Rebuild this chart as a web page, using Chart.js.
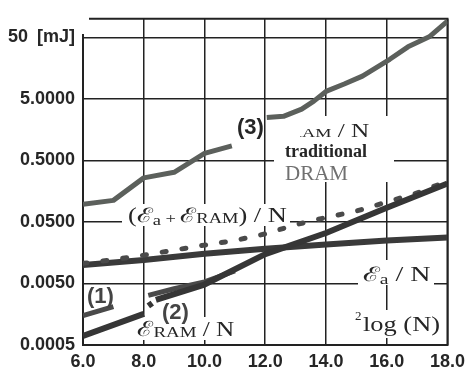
<!DOCTYPE html>
<html>
<head>
<meta charset="utf-8">
<script src="https://cdn.jsdelivr.net/npm/chart.js@4.4.1/dist/chart.umd.min.js"></script>
<style>
  html, body { margin: 0; padding: 0; background: #fff; }
  #wrap { width: 471px; height: 374px; }
</style>
</head>
<body>
<div id="wrap"><canvas id="chart" width="471" height="374"></canvas></div>
<script>
// x axis = 2log(N), y axis = energy in mJ (log)
const xTicks = [6, 8, 10, 12, 14, 16, 18];
const yTicks = [0.0005, 0.005, 0.05, 0.5, 5, 50];
const yTickLabels = ['0.0005', '0.0050', '0.0500', '0.5000', '5.0000', '50\u2002[mJ]'];

// (3) traditional DRAM  (null = break in the curve)
const dramX = [6, 7, 8, 9, 10, 10.9, 11.5, 12.05, 12.6, 13.2, 13.6, 14, 14.6, 15.2, 16.1, 16.7, 17.4, 18];
const dramY = [0.097, 0.112, 0.26, 0.32, 0.65, 0.86, null, 2.5, 2.6, 3.4, 4.6, 6.6, 8.7, 11.7, 22, 35, 51, 92];

// Ea / N
const eaX = [6, 8, 10, 12, 14, 16, 18];
const eaY = [0.0100, 0.0120, 0.0152, 0.0183, 0.0215, 0.025, 0.028];

// (Ea + ERAM) / N  dotted
const sumX = [6, 7, 8, 9, 10, 11, 12, 13, 14, 15, 16, 17, 18];
const sumY = [0.0106, 0.0122, 0.0144, 0.0174, 0.021, 0.025, 0.032, 0.045, 0.059, 0.075, 0.105, 0.148, 0.23];

// (2) ERAM / N
const ramX = [6, 8, 8.08, 8.15, 8.28, 8.34, 8.4, 10, 12, 14, 16, 18];
const ramY = [0.0007, 0.0016, null, 0.00216, 0.0024, null, 0.0027, 0.0048, 0.015, 0.033, 0.085, 0.21];

// (1)
const oneX = [6, 7, 7.5, 8.15, 9, 10, 11];
const oneY = [0.0015, 0.0021, null, 0.0032, 0.0041, 0.0053, 0.0080];

function pts(xs, ys) {
    return xs.map((x, i) => ({x: x, y: ys[i]}));
}

const SANS = "'Liberation Sans', Arial, sans-serif";
const SERIF = "'Liberation Serif', 'DejaVu Serif', serif";

// white patches behind the labels (hide the grid there)
const patches = [
    {x: 82, y: 12, w: 56, h: 22},
    {x: 274, y: 116, w: 120, h: 66},
    {x: 122, y: 204, w: 168, h: 22},
    {x: 134, y: 317, w: 102, h: 23},
    {x: 358, y: 260, w: 76, h: 25},
    {x: 352, y: 310, w: 92, h: 28}
];

// text runs, stretched sideways by sx like the scanned figure
function drawRich(ctx, x, y, parts, color, sx) {
    sx = sx || 1;
    ctx.save();
    ctx.translate(x, y);
    ctx.scale(sx, 1);
    let cx = 0;
    parts.forEach(p => {
        ctx.font = p.font;
        ctx.fillStyle = p.color || color;
        ctx.fillText(p.t, cx, p.dy || 0);
        cx += ctx.measureText(p.t).width;
    });
    ctx.restore();
    return x + cx * sx;
}

const labelsPlugin = {
    id: 'labels',
    beforeDatasetsDraw(chart) {
        const ctx = chart.ctx;
        const a = chart.chartArea;
        ctx.save();
        ctx.fillStyle = '#fff';
        patches.forEach(p => ctx.fillRect(p.x, p.y, p.w, p.h));
        ctx.strokeStyle = '#222';
        ctx.lineWidth = 2;
        ctx.beginPath();
        ctx.moveTo(a.left + 6, a.top);
        ctx.lineTo(a.right, a.top);
        ctx.lineTo(a.right, a.bottom);
        ctx.stroke();
        ctx.restore();
    },
    afterDatasetsDraw(chart) {
        const ctx = chart.ctx;
        ctx.save();
        ctx.textBaseline = 'alphabetic';
        const ink = '#262626';

        drawRich(ctx, 237, 134, [{t: '(3)', font: 'bold 22px ' + SANS}], ink);

        // partly hidden E_RAM / N above "traditional"
        ctx.save();
        ctx.beginPath();
        ctx.rect(300, 110, 90, 40);
        ctx.clip();
        const sxTop = 1.4;
        ctx.font = '18px ' + SERIF;
        let w = ctx.measureText('\u2130').width;
        ctx.font = '13px ' + SERIF;
        w += ctx.measureText('R').width;
        drawRich(ctx, 302 - w * sxTop, 137, [
            {t: '\u2130', font: '18px ' + SERIF},
            {t: 'RAM', font: '13px ' + SERIF},
            {t: ' / N', font: '18px ' + SERIF}
        ], ink, sxTop);
        ctx.restore();

        drawRich(ctx, 285, 157, [{t: 'traditional', font: 'bold 18px ' + SERIF}], ink);
        drawRich(ctx, 285, 180, [{t: 'DRAM', font: '21px ' + SERIF, color: '#707070'}], ink);

        drawRich(ctx, 128, 222, [
            {t: '(\u2130', font: '20px ' + SERIF},
            {t: 'a', font: '14px ' + SERIF, dy: 3},
            {t: ' + ', font: '14px ' + SERIF, dy: 1},
            {t: '\u2130', font: '20px ' + SERIF},
            {t: 'RAM', font: '14px ' + SERIF, dy: 1},
            {t: ') / N', font: '20px ' + SERIF}
        ], ink, 1.32);

        drawRich(ctx, 87, 303, [{t: '(1)', font: 'bold 22px ' + SANS}], '#444');
        drawRich(ctx, 162, 319, [{t: '(2)', font: 'bold 22px ' + SANS}], '#444');

        drawRich(ctx, 137, 336, [
            {t: '\u2130', font: '21px ' + SERIF},
            {t: 'RAM', font: '15px ' + SERIF, dy: 1},
            {t: ' / N', font: '20px ' + SERIF}
        ], ink, 1.26);

        drawRich(ctx, 363, 281, [
            {t: '\u2130', font: '20px ' + SERIF},
            {t: 'a', font: '14px ' + SERIF, dy: 3},
            {t: ' / N', font: '20px ' + SERIF}
        ], ink, 1.4);

        drawRich(ctx, 355, 320, [{t: '2', font: '13px ' + SERIF}], ink);
        drawRich(ctx, 363, 331, [{t: 'log (N)', font: '22px ' + SERIF}], ink, 1.2);
        ctx.restore();
    }
};

const lineBase = {
    fill: false,
    tension: 0,
    pointRadius: 0,
    borderJoinStyle: 'round',
    spanGaps: false
};

new Chart(document.getElementById('chart'), {
    type: 'line',
    data: {
        datasets: [
            Object.assign({}, lineBase, {label: 'ERAM / N', data: pts(ramX, ramY), borderColor: '#363636', borderWidth: 6}),
            Object.assign({}, lineBase, {label: '(Ea + ERAM) / N', data: pts(sumX, sumY), borderColor: '#4a4a4a', borderWidth: 5, borderDash: [4, 16], borderCapStyle: 'round'}),
            Object.assign({}, lineBase, {label: 'Ea / N', data: pts(eaX, eaY), borderColor: '#3a3a3a', borderWidth: 6}),
            Object.assign({}, lineBase, {label: '(1)', data: pts(oneX, oneY), borderColor: '#4a4a4a', borderWidth: 5}),
            Object.assign({}, lineBase, {label: 'traditional DRAM', data: pts(dramX, dramY), borderColor: '#5c605c', borderWidth: 5})
        ]
    },
    options: {
        responsive: false,
        animation: false,
        layout: {padding: {top: 9, right: 14, left: 0, bottom: 0}},
        plugins: {legend: {display: false}, tooltip: {enabled: false}},
        scales: {
            x: {
                type: 'linear',
                min: 6,
                max: 18,
                afterFit: s => { s.height = 29; },
                afterBuildTicks: s => { s.ticks = xTicks.map(v => ({value: v})); },
                grid: {color: '#222', lineWidth: 1.5, drawTicks: false},
                border: {color: '#222', width: 2},
                ticks: {
                    padding: 6,
                    maxRotation: 0,
                    autoSkip: false,
                    color: '#262626',
                    font: {family: SANS, size: 18, weight: 'bold'},
                    callback: v => v.toFixed(1)
                }
            },
            y: {
                type: 'logarithmic',
                min: 0.0005,
                max: 100,
                afterFit: s => { s.width = 83; },
                afterBuildTicks: s => { s.ticks = yTicks.map(v => ({value: v})); },
                grid: {color: '#222', lineWidth: 1.5, drawTicks: false},
                border: {color: '#222', width: 2},
                ticks: {
                    padding: 8,
                    autoSkip: false,
                    color: '#262626',
                    font: {family: SANS, size: 18, weight: 'bold'},
                    callback: v => yTickLabels[yTicks.indexOf(v)]
                }
            }
        }
    },
    plugins: [labelsPlugin]
});
</script>
</body>
</html>
